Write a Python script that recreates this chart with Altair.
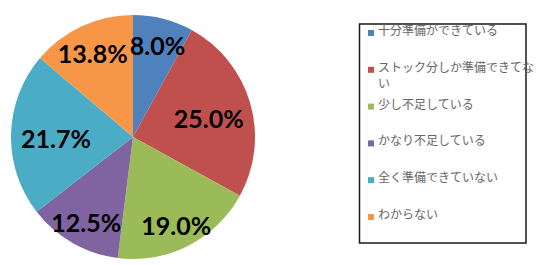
import altair as alt
import pandas as pd

categories = ["十分準備ができている", "ストック分しか準備できてない", "少し不足している",
              "かなり不足している", "全く準備できていない", "わからない"]
legend_labels = ["十分準備ができている", "ストック分しか準備できてな\nい", "少し不足している",
                 "かなり不足している", "全く準備できていない", "わからない"]
values = [8.0, 25.0, 19.0, 12.5, 21.7, 13.8]
colors = ["#4F81BD", "#C0504D", "#9BBB59", "#8064A2", "#4BACC6", "#F79646"]

df = pd.DataFrame({"cat": categories, "legend": legend_labels,
                   "value": values, "idx": list(range(len(values)))})

base = alt.Chart(df)
color = alt.Color("cat:N", scale=alt.Scale(domain=categories, range=colors), legend=None)
cx, cy = 133, 137

arcs = base.mark_arc(outerRadius=122).encode(
    theta=alt.Theta("value:Q", stack=True),
    order=alt.Order("idx:Q"),
    color=color,
    x=alt.value(cx), y=alt.value(cy),
)

labels = base.transform_joinaggregate(
    total="sum(value)"
).transform_window(
    cum="sum(value)", sort=[alt.SortField("idx")], frame=[None, 0]
).transform_calculate(
    mid="(datum.cum - datum.value/2)/datum.total*2*PI",
    r="100 - 23*pow(sin(datum.mid), 2)",
    px=f"{cx} + datum.r*sin(datum.mid)",
    py=f"{cy} - datum.r*cos(datum.mid)",
    label="format(datum.value, '.1f') + '%'",
).mark_text(font="Lato", fontWeight="bold", fontSize=25, color="black", dy=5).encode(
    x=alt.X("px:Q", scale=None),
    y=alt.Y("py:Q", scale=None),
    text="label:N",
)

box = alt.Chart(pd.DataFrame({"a": [0]})).mark_rect(
    fill="white", stroke="#1a1a1a", strokeWidth=1.5
).encode(x=alt.value(359.5), x2=alt.value(526), y=alt.value(24), y2=alt.value(243))

yscale = alt.Scale(type="point", domain=categories, range=[33, 217], padding=0)

squares = base.mark_square(size=36, opacity=1).encode(
    x=alt.value(371),
    y=alt.Y("cat:N", scale=yscale, axis=None),
    color=color,
)

legend_text = base.mark_text(
    align="left", baseline="top", dy=-7, fontSize=12, font="Noto Sans CJK JP",
    color="#666666", lineBreak="\n", lineHeight=16,
).encode(
    x=alt.value(378),
    y=alt.Y("cat:N", scale=yscale, axis=None),
    text="legend:N",
)

chart = alt.layer(arcs, labels, box, squares, legend_text).resolve_scale(
    x="independent", y="independent"
).properties(
    width=538, height=265, padding=0, autosize=alt.AutoSizeParams(type="none")
).configure_view(stroke=None)

chart.save("out.html", embed_options={"renderer": "svg", "actions": False})
